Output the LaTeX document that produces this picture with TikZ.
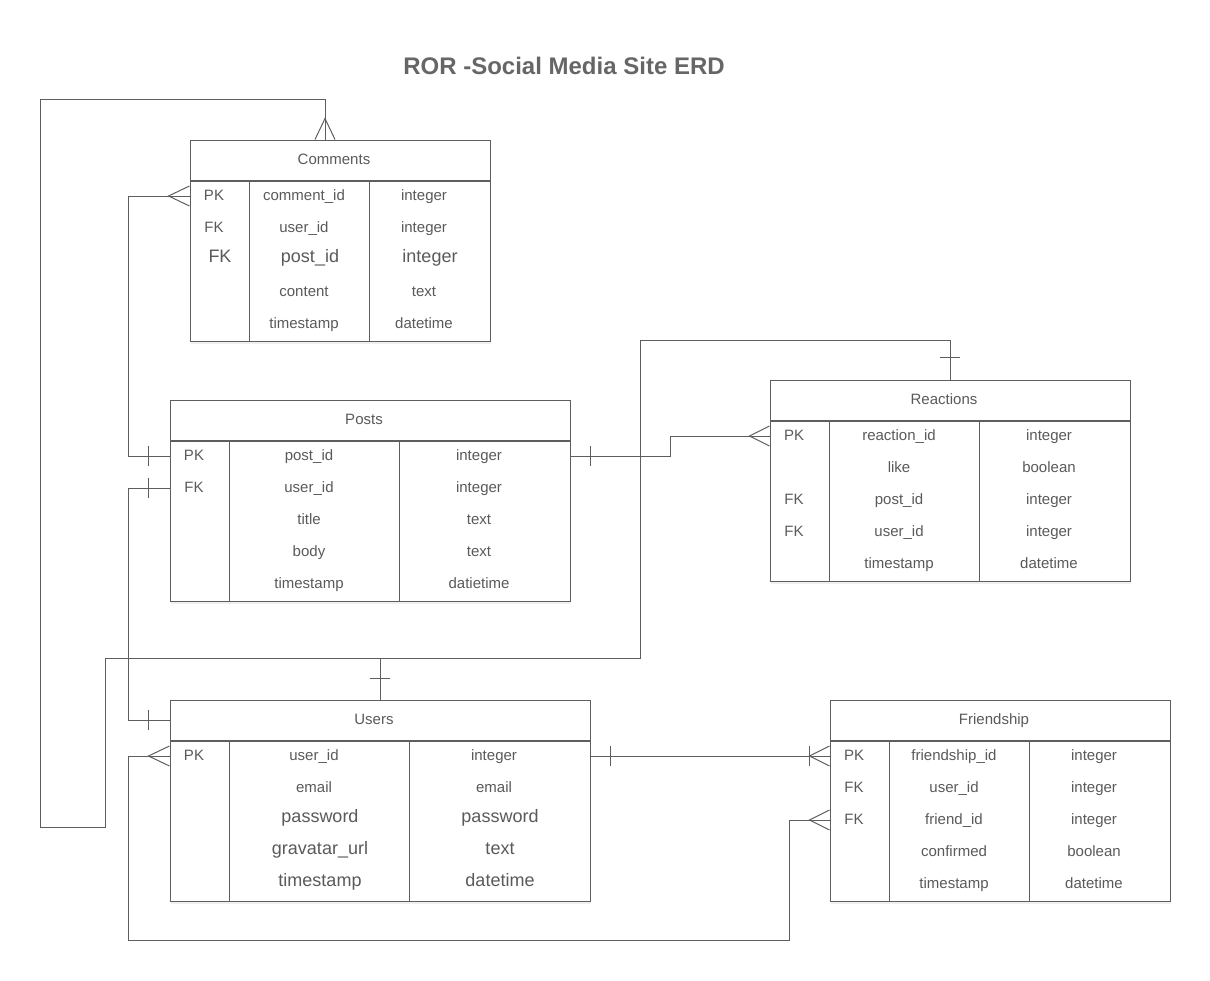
\documentclass[tikz,border=0pt]{standalone}
\usepackage{fontspec}
\setmainfont{Liberation Sans}
\usepackage{tikz}
\usetikzlibrary{positioning,calc,shadows}
\definecolor{lineGray}{HTML}{5E5E5E}
\definecolor{textGray}{HTML}{5A5A5A}
\definecolor{titleGray}{HTML}{666666}

\begin{document}
\begin{tikzpicture}
  [
    x=1pt, y=-1pt,
    Head/.style={rectangle, draw=lineGray, fill=white, line width=1pt, minimum height=40pt, inner sep=0pt,
      text=textGray, font=\fontsize{15}{18}\selectfont, text height=11pt, text depth=3pt,
      drop shadow={shadow xshift=1pt, shadow yshift=-3pt, opacity=0.12}},
    Body/.style={Head, minimum height=160pt, anchor=north},
    Cell/.style={inner sep=0pt, text=textGray, font=\fontsize{15}{18}\selectfont, text height=11pt, text depth=3pt},
    Big/.style={Cell, font=\fontsize{18}{21}\selectfont, text height=13pt, text depth=4pt, xshift=6pt},
    Link/.style={draw=lineGray, line width=1pt}
  ]
  \useasboundingbox (0,0) rectangle (1210,980);
  % Title
  \node[font=\bfseries\fontsize{24}{28}\selectfont, text=titleGray] (title) at (564,66) {ROR -Social Media Site ERD};

  % Comments
  \node[Head, minimum width=300pt] (comments) at (340,160) {\hspace*{-12pt}Comments};
  \node[Body, minimum width=300pt] (commentsBody) at (comments.south) {};
  \path[Link] (commentsBody.north west) ++(60,0) -- ++(0,160);
  \path[Link] (commentsBody.north west) ++(180,0) -- ++(0,160);
  \foreach \y/\k/\n/\t/\s in {196/PK/comment\_id/integer/Cell, 228/FK/user\_id/integer/Cell,
      258/FK/post\_id/integer/Big, 292//content/text/Cell, 324//timestamp/datetime/Cell}
  {
    \node[\s] (cmk\y) at (214,\y) {\k};
    \node[\s] (cmn\y) at (304,\y) {\n};
    \node[\s] (cmt\y) at (424,\y) {\t};
  }

  % Posts
  \node[Head, minimum width=400pt] (posts) at (370,420) {\hspace*{-12pt}Posts};
  \node[Body, minimum width=400pt] (postsBody) at (posts.south) {};
  \path[Link] (postsBody.north west) ++(60,0) -- ++(0,160);
  \path[Link] (postsBody.north west) ++(230,0) -- ++(0,160);
  \foreach \y/\k/\n/\t/\s in {456/PK/post\_id/integer/Cell, 488/FK/user\_id/integer/Cell,
      520//title/text/Cell, 552//body/text/Cell, 584//timestamp/datietime/Cell}
  {
    \node[\s] (pok\y) at (194,\y) {\k};
    \node[\s] (pon\y) at (309,\y) {\n};
    \node[\s] (pot\y) at (479,\y) {\t};
  }

  % Reactions
  \node[Head, minimum width=360pt] (reactions) at (950,400) {\hspace*{-12pt}Reactions};
  \node[Body, minimum width=360pt] (reactionsBody) at (reactions.south) {};
  \path[Link] (reactionsBody.north west) ++(60,0) -- ++(0,160);
  \path[Link] (reactionsBody.north west) ++(210,0) -- ++(0,160);
  \foreach \y/\k/\n/\t/\s in {436/PK/reaction\_id/integer/Cell, 468//like/boolean/Cell,
      500/FK/post\_id/integer/Cell, 532/FK/user\_id/integer/Cell, 564//timestamp/datetime/Cell}
  {
    \node[\s] (rek\y) at (794,\y) {\k};
    \node[\s] (ren\y) at (899,\y) {\n};
    \node[\s] (ret\y) at (1049,\y) {\t};
  }

  % Users
  \node[Head, minimum width=420pt] (users) at (380,720) {\hspace*{-12pt}Users};
  \node[Body, minimum width=420pt] (usersBody) at (users.south) {};
  \path[Link] (usersBody.north west) ++(60,0) -- ++(0,160);
  \path[Link] (usersBody.north west) ++(240,0) -- ++(0,160);
  \foreach \y/\k/\n/\t/\s in {756/PK/user\_id/integer/Cell, 788//email/email/Cell,
      818//password/password/Big, 850//gravatar\_url/text/Big, 882//timestamp/datetime/Big}
  {
    \node[\s] (usk\y) at (194,\y) {\k};
    \node[\s] (usn\y) at (314,\y) {\n};
    \node[\s] (ust\y) at (494,\y) {\t};
  }

  % Friendship
  \node[Head, minimum width=340pt] (friendship) at (1000,720) {\hspace*{-12pt}Friendship};
  \node[Body, minimum width=340pt] (friendshipBody) at (friendship.south) {};
  \path[Link] (friendshipBody.north west) ++(60,0) -- ++(0,160);
  \path[Link] (friendshipBody.north west) ++(200,0) -- ++(0,160);
  \foreach \y/\k/\n/\t/\s in {756/PK/friendship\_id/integer/Cell, 788/FK/user\_id/integer/Cell,
      820/FK/friend\_id/integer/Cell, 852//confirmed/boolean/Cell, 884//timestamp/datetime/Cell}
  {
    \node[\s] (frk\y) at (854,\y) {\k};
    \node[\s] (frn\y) at (954,\y) {\n};
    \node[\s] (frt\y) at (1094,\y) {\t};
  }

  % Lines
  % users -> comments
  \path[Link] (users.north) -- ++(0,-41) -| (105,827) -| (40,99) -| ($(comments.north)+(-15,0)$);
  \path[Link] (comments.north) ++(-25,0) -- ++(10,-21) -- ++(10,21);
  \path[Link] (users.north) ++(-10,-21) -- ++(20,0);
  % users -> reactions
  \path[Link] (users.north) -- ++(0,-41) -| (640,340) -| (reactions.north);
  \path[Link] (reactions.north) ++(-10,-22) -- ++(20,0);
  % posts -> comments
  \path[Link] (posts.west |- pok456) -- ++(-41,0) |- (comments.west |- cmk196);
  \path[Link] (posts.west |- pok456) ++(-21,-10) -- ++(0,20);
  \path[Link] (comments.west |- cmk196) ++(0,-10) -- ++(-21,10) -- ++(21,10);
  % posts -> users
  \path[Link] (posts.west |- pok488) -- ++(-41,0) |- (users.west);
  \path[Link] (posts.west |- pok488) ++(-21,-10) -- ++(0,20);
  \path[Link] (users.west) ++(-21,-10) -- ++(0,20);
  % posts -> reactions
  \path[Link] (posts.east |- pok456) -- ++(100,0) |- (reactions.west |- rek436);
  \path[Link] (posts.east |- pok456) ++(20,-10) -- ++(0,20);
  \path[Link] (reactions.west |- rek436) ++(0,-10) -- ++(-20,10) -- ++(20,10);
  % users -> friendship
  \path[Link] (users.east |- usk756) -- (friendship.west |- frk756);
  \path[Link] (users.east |- usk756) ++(20,-10) -- ++(0,20);
  \path[Link] (friendship.west |- frk756) ++(0,-10) -- ++(-20,10) -- ++(20,10);
  \path[Link] (friendship.west |- frk756) ++(-20,-10) -- ++(0,20);
  % users -> friendship (friend_id)
  \path[Link] (users.west |- usk756) -- ++(-41,0) |- (789,940) |- (friendship.west |- frk820);
  \path[Link] (users.west |- usk756) ++(0,-10) -- ++(-21,10) -- ++(21,10);
  \path[Link] (friendship.west |- frk820) ++(0,-10) -- ++(-20,10) -- ++(20,10);
\end{tikzpicture}
\end{document}
